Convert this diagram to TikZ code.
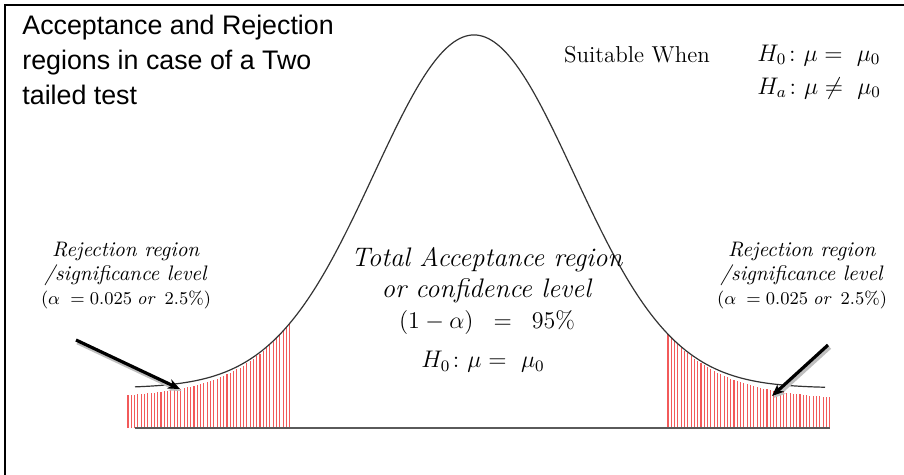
\documentclass[tikz,border=0pt]{standalone}
\usepackage{amsmath,amssymb}
\usepackage{fontspec}
\usetikzlibrary{arrows.meta,positioning}
\newfontfamily\arialfont{Liberation Sans}
\definecolor{hatchred}{HTML}{F25A5A}
\definecolor{axisgray}{HTML}{5A5A5A}
\tikzset{
  hatchline/.style={hatchred, line width=0.55pt},
  tailarrow/.style={-{Stealth[length=6pt,width=5pt]}, line width=1.6pt, black},
  labeltext/.style={align=center, inner sep=0pt, font=\fontsize{10.5}{12}\selectfont}
}
\newcommand{\rejlabel}{\textit{Rejection region}\\\textit{/significance level}\\
  {\fontsize{9}{12}\selectfont$(\alpha\;=0.025\;\mathit{or}\;\;2.5\%)$}}

\begin{document}
\begin{tikzpicture}[x=0.5pt, y=-0.5pt]
    \useasboundingbox (0,0) rectangle (904,475);
    % Frame (top and left edge only)
    \draw[line width=1.2pt] (5,475) -- (5,5) -- (904,5);

    % Rejection hatching, left tail
    \foreach \i in {0,...,49} {
      \pgfmathsetmacro{\xx}{128+3.3*\i}
      \pgfmathsetmacro{\yy}{388-353*exp(-((\xx-474)/100)^2/2)+8*(290-\xx)/162}
      \draw[hatchline] (\xx,428) -- (\xx,\yy);
    }
    % Rejection hatching, right tail
    \foreach \i in {0,...,49} {
      \pgfmathsetmacro{\xx}{668+3.3*\i}
      \pgfmathsetmacro{\yy}{388-353*exp(-((\xx-474)/100)^2/2)+10*(\xx-668)/162}
      \draw[hatchline] (\xx,428) -- (\xx,\yy);
    }

    % Axis
    \draw[axisgray, line width=0.9pt] (135,428) -- (830,428);

    % Bell curve
    \draw[black!80, line width=0.6pt, smooth, samples=120, domain=135:825]
      plot (\x, {388-353*exp(-((\x-474)/100)^2/2)});

    % Title
    \node[anchor=north west, align=left, inner sep=0pt,
          font=\arialfont\fontsize{13.4}{17.3}\selectfont] (title) at (22,15)
      {Acceptance and Rejection\\regions in case of a Two\\tailed test};

    % Hypotheses, top right
    \node[inner sep=0pt, font=\fontsize{11.5}{14}\selectfont] (when) at (637,55) {Suitable When};
    \node[anchor=west, align=left, inner sep=0pt, font=\fontsize{11.5}{16.5}\selectfont] (hyp) at (757,72)
      {$H_0\colon \mu =\ \mu_0$\\$H_a\colon \mu \neq\ \mu_0$};

    % Acceptance region text
    \node[align=center, inner sep=0pt, font=\fontsize{13.4}{15.5}\selectfont] (accept) at (487,291)
      {\textit{Total Acceptance region}\\\textit{or confidence level}\\
       {\fontsize{12}{15.5}\selectfont$(1-\alpha)\;\;=\;\;95\%$}};
    \node[inner sep=0pt, font=\fontsize{12}{15}\selectfont] (nullhyp) at (483,362) {$H_0\colon \mu =\ \mu_0$};

    % Rejection region labels
    \node[labeltext] (rejleft) at (126,276) {\rejlabel};
    \node[labeltext] (rejright) at (802,276) {\rejlabel};

    % Arrows into the tails
    \coordinate (lefttail) at (76,340);
    \coordinate (lefttip) at (180,389);
    \coordinate (righttail) at (828,345);
    \coordinate (righttip) at (772,396);
    \draw[tailarrow, black!25, line width=2.4pt] ([shift={(1.5,2)}]lefttail) -- ([shift={(1.5,2)}]lefttip);
    \draw[tailarrow] (lefttail) -- (lefttip);
    \draw[tailarrow, black!25, line width=2.4pt] ([shift={(1.5,2)}]righttail) -- ([shift={(1.5,2)}]righttip);
    \draw[tailarrow] (righttail) -- (righttip);
\end{tikzpicture}
\end{document}
